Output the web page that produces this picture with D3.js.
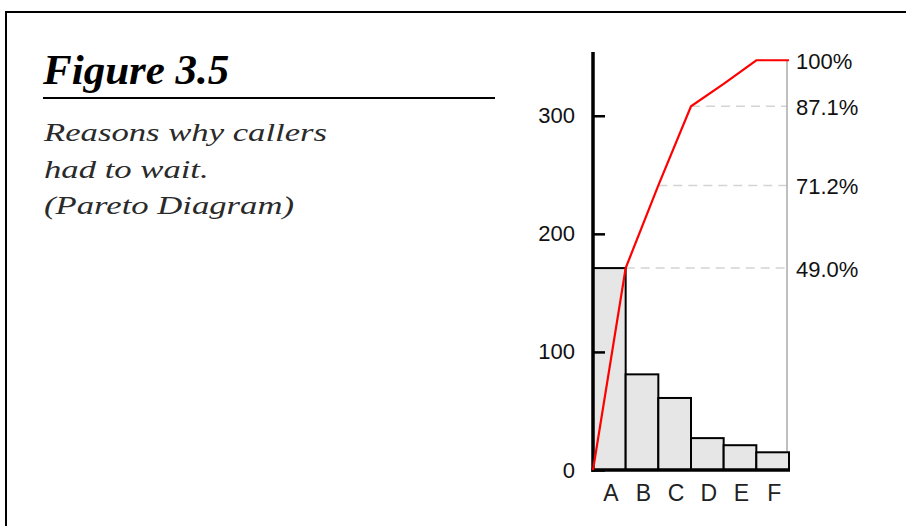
<!DOCTYPE html>
<html><head><meta charset="utf-8">
<script src="https://cdn.jsdelivr.net/npm/d3@7"></script>
<style>body{margin:0;background:#fff;} svg{display:block;}</style>
</head><body><svg id="c" width="906" height="526"></svg>
<script>
// ---- data ----
const categories = ["A","B","C","D","E","F"];
const counts = [171, 81, 61, 27, 21, 15];
const cumulative = [171, 241, 308, 327, 347, 347];
const pctCategories = ["A","B","C","E"];
const pctLabels = ["49.0%","71.2%","87.1%","100%"];
const yTicks = [0, 100, 200, 300];
const yMax = 354;
const titleText = "Figure 3.5";
const subtitleLines = ["Reasons why callers", "had to wait.", "(Pareto Diagram)"];

// ---- drawing ----
const svg = d3.select("#c");
const sans = "'Liberation Sans', Arial, sans-serif";
const serif = "'Liberation Serif', 'Times New Roman', serif";

// frame
svg.append("rect").attr("x",6).attr("y",12).attr("width",1000).attr("height",1000)
  .attr("fill","none").attr("stroke","#000").attr("stroke-width",2);

// title block
svg.append("text").attr("x",43).attr("y",84)
  .attr("font-family",serif).attr("font-size",43).attr("font-weight","bold").attr("font-style","italic")
  .attr("fill","#000").text(titleText);
svg.append("line").attr("x1",43).attr("x2",495).attr("y1",98).attr("y2",98)
  .attr("stroke","#000").attr("stroke-width",2);
const sub = svg.append("g").attr("transform","translate(44,0) scale(1.36,1)");
sub.selectAll("text").data(subtitleLines).join("text")
  .attr("x",0).attr("y",(d,i)=>141.5 + i*36.5)
  .attr("font-family",serif).attr("font-size",25.5).attr("font-style","italic")
  .attr("fill","#2a2a2a").text(d=>d);

// scales
const x = d3.scaleBand().domain(categories).range([593, 789]).padding(0);
const y = d3.scaleLinear().domain([0, yMax]).range([470, 52]);
const bw = x.bandwidth();
const xRight = x.range()[1];
const cumOf = c => cumulative[categories.indexOf(c)];

// dashed percentage guides
svg.append("g").selectAll("line").data(pctCategories).join("line")
  .attr("x1", c => x(c) + bw).attr("x2", xRight - 2)
  .attr("y1", c => y(cumOf(c))).attr("y2", c => y(cumOf(c)))
  .attr("stroke","#d4d4d4").attr("stroke-width",1.5).attr("stroke-dasharray","9,6");

// right axis line
svg.append("line").attr("x1", xRight - 2).attr("x2", xRight - 2)
  .attr("y1", y(d3.max(cumulative))).attr("y2", y(0))
  .attr("stroke","#aaa").attr("stroke-width",1.5);

// bars
svg.append("g").selectAll("rect").data(categories).join("rect")
  .attr("x", c => x(c)).attr("width", bw)
  .attr("y", (c,i) => y(counts[i])).attr("height", (c,i) => y(0) - y(counts[i]))
  .attr("fill","#e6e6e6").attr("stroke","#000").attr("stroke-width",2);

// left axis
const yAxis = d3.axisLeft(y).tickValues(yTicks).tickSizeInner(-12).tickSizeOuter(0).tickPadding(18);
const ga = svg.append("g").attr("transform", `translate(${x.range()[0]},0)`).call(yAxis);
ga.select(".domain").remove();
ga.selectAll(".tick line").attr("stroke","#000").attr("stroke-width",2.5);
ga.selectAll(".tick text").attr("font-family",sans).attr("font-size",22).attr("fill","#111");
svg.append("line").attr("x1",x.range()[0]).attr("x2",x.range()[0])
  .attr("y1",y(yMax)).attr("y2",y(0)+2).attr("stroke","#000").attr("stroke-width",3.5);
// x axis
svg.append("line").attr("x1",x.range()[0]-1.5).attr("x2",xRight+1)
  .attr("y1",y(0)).attr("y2",y(0)).attr("stroke","#000").attr("stroke-width",3.5);
svg.append("g").selectAll("text").data(categories).join("text")
  .attr("x", c => x(c) + bw/2 + 1.5).attr("y", 501)
  .attr("text-anchor","middle").attr("font-family",sans).attr("font-size",23).attr("fill","#222")
  .text(c => c);

// cumulative line
const linePts = [[x(categories[0]), 0]].concat(categories.map((c,i) => [x(c) + bw, cumulative[i]]));
svg.append("path").datum(linePts)
  .attr("d", d3.line().x(d => d[0]).y(d => y(d[1])))
  .attr("fill","none").attr("stroke","#ff0000").attr("stroke-width",2.2);

// percentage labels
svg.append("g").selectAll("text").data(pctCategories).join("text")
  .attr("x", xRight + 7).attr("y", c => y(cumOf(c)) + 1)
  .attr("dy","0.35em").attr("font-family",sans).attr("font-size",22).attr("fill","#111")
  .text((c,i) => pctLabels[i]);
</script></body></html>
